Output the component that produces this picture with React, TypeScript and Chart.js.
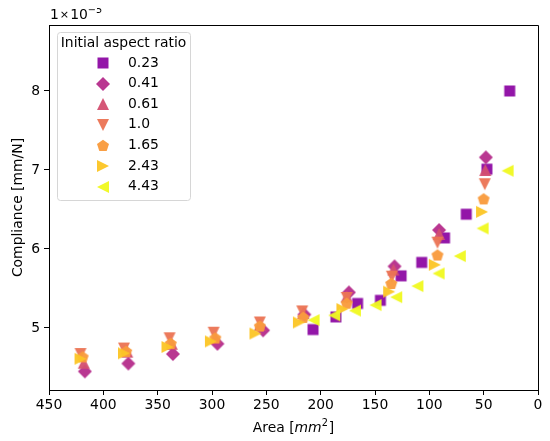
import React, { useRef, useEffect } from 'react';
import { Chart, registerables } from 'chart.js';

Chart.register(...registerables);

// compliance values are in units of 1e-5 mm/N
const ratioLabels = ['0.23', '0.41', '0.61', '1.0', '1.65', '2.43', '4.43'];

const area023 = [26, 47, 66, 86, 107, 126, 145, 166, 186, 207];
const comp023 = [8.0, 7.01, 6.44, 6.14, 5.83, 5.66, 5.35, 5.31, 5.14, 4.98];

const area041 = [48, 91, 132, 174, 215, 253, 295, 336, 377, 417];
const comp041 = [7.16, 6.24, 5.78, 5.45, 5.17, 4.97, 4.8, 4.67, 4.55, 4.45];

const area061 = [48.5, 91, 133, 176, 216, 256, 297, 337, 378, 418];
const comp061 = [7.0, 6.19, 5.74, 5.4, 5.19, 5.04, 4.88, 4.8, 4.7, 4.56];

const area10 = [49, 92.5, 134.5, 176, 217, 256, 298.5, 339, 381, 421];
const comp10 = [6.82, 6.08, 5.65, 5.38, 5.21, 5.07, 4.94, 4.87, 4.74, 4.67];

const area165 = [50, 92.5, 135, 176, 216, 256, 297, 338, 379, 419];
const comp165 = [6.64, 5.93, 5.57, 5.32, 5.14, 5.03, 4.88, 4.81, 4.71, 4.64];

const area243 = [51.5, 95, 137, 180, 220, 260, 301, 341, 381, 421];
const comp243 = [6.47, 5.8, 5.46, 5.24, 5.07, 4.93, 4.83, 4.76, 4.68, 4.61];

const area443 = [28, 51, 72, 91.5, 111, 130.5, 149.5, 168.5, 187.5, 206.5];
const comp443 = [6.99, 6.26, 5.91, 5.69, 5.53, 5.39, 5.29, 5.22, 5.16, 5.1];

const xTicks = [0, 50, 100, 150, 200, 250, 300, 350, 400, 450];
const yTicks = [5, 6, 7, 8];

const seriesAreas = [area023, area041, area061, area10, area165, area243, area443];
const seriesComp = [comp023, comp041, comp061, comp10, comp165, comp243, comp443];
const shapes = ['square', 'diamond', 'up', 'down', 'pentagon', 'right', 'left'];
const colors = [
  'rgba(143,13,164,0.96)',
  'rgba(182,47,140,0.96)',
  'rgba(211,80,113,0.96)',
  'rgba(235,117,85,0.96)',
  'rgba(249,155,61,0.96)',
  'rgba(252,198,39,0.96)',
  'rgba(240,249,33,0.96)',
];

const FONT = '"DejaVu Sans", sans-serif';
const FS = 13.9;

function makeMarker(shape: string, fill: string) {
  const cv = document.createElement('canvas');
  cv.width = 20;
  cv.height = 20;
  const g = cv.getContext('2d')!;
  const c = 10;
  g.fillStyle = fill;
  g.beginPath();
  if (shape === 'square') {
    g.rect(c - 5.5, c - 5.5, 11, 11);
  } else if (shape === 'diamond') {
    g.moveTo(c, c - 7);
    g.lineTo(c + 7, c);
    g.lineTo(c, c + 7);
    g.lineTo(c - 7, c);
  } else if (shape === 'up') {
    g.moveTo(c, c - 6);
    g.lineTo(c + 6, c + 6);
    g.lineTo(c - 6, c + 6);
  } else if (shape === 'down') {
    g.moveTo(c, c + 6);
    g.lineTo(c + 6, c - 6);
    g.lineTo(c - 6, c - 6);
  } else if (shape === 'left') {
    g.moveTo(c - 6, c);
    g.lineTo(c + 6, c - 6);
    g.lineTo(c + 6, c + 6);
  } else if (shape === 'right') {
    g.moveTo(c + 6, c);
    g.lineTo(c - 6, c - 6);
    g.lineTo(c - 6, c + 6);
  } else {
    for (let k = 0; k < 5; k++) {
      const a = (-90 + k * 72) * Math.PI / 180;
      const px = c + 6.3 * Math.cos(a);
      const py = c + 1 + 6.3 * Math.sin(a);
      if (k === 0) g.moveTo(px, py);
      else g.lineTo(px, py);
    }
  }
  g.closePath();
  g.fill();
  return cv;
}

const decorPlugin = {
  id: 'decor',
  afterDraw(chart: any) {
    const { ctx, chartArea } = chart;
    const { left, right, top, bottom } = chartArea;
    ctx.save();

    // top/right spines
    ctx.strokeStyle = '#000';
    ctx.lineWidth = 1;
    ctx.beginPath();
    ctx.moveTo(left, top + 0.5);
    ctx.lineTo(right + 0.5, top + 0.5);
    ctx.lineTo(right + 0.5, bottom);
    ctx.stroke();

    ctx.fillStyle = '#000';
    ctx.textBaseline = 'alphabetic';

    // offset text 1x10^-5
    let x = left + 1;
    const by = top - 6.5;
    ctx.font = `${FS}px ${FONT}`;
    ctx.textAlign = 'left';
    ctx.fillText('1', x, by);
    x += ctx.measureText('1').width + 1;
    ctx.font = `${FS * 0.8}px ${FONT}`;
    ctx.fillText('×', x, by - 1);
    x += ctx.measureText('×').width + 1;
    ctx.font = `${FS}px ${FONT}`;
    ctx.fillText('10', x, by);
    x += ctx.measureText('10').width;
    ctx.font = `${FS * 0.7}px ${FONT}`;
    ctx.fillText('−5', x, by - 6);

    // x axis title: Area [mm^2]
    const parts = [
      { t: 'Area [', f: `${FS}px ${FONT}`, dy: 0 },
      { t: 'mm', f: `italic ${FS}px ${FONT}`, dy: 0 },
      { t: '2', f: `${FS * 0.7}px ${FONT}`, dy: -6 },
      { t: ']', f: `${FS}px ${FONT}`, dy: 0 },
    ];
    let total = 0;
    parts.forEach((p) => {
      ctx.font = p.f;
      total += ctx.measureText(p.t).width + (p.t === '2' ? 1 : 0);
    });
    x = (left + right) / 2 - total / 2;
    const xb = bottom + 42;
    parts.forEach((p) => {
      ctx.font = p.f;
      ctx.fillText(p.t, x, xb + p.dy);
      x += ctx.measureText(p.t).width + (p.t === '2' ? 1 : 0);
    });

    // y axis title
    ctx.save();
    ctx.translate(left - 31, (top + bottom) / 2);
    ctx.rotate(-Math.PI / 2);
    ctx.font = `${FS}px ${FONT}`;
    ctx.textAlign = 'center';
    ctx.textBaseline = 'middle';
    ctx.fillText('Compliance [mm/N]', 0, 0);
    ctx.restore();

    // legend
    const lx = left + 8;
    const ly = top + 7;
    const lw = 133;
    const lh = 168;
    ctx.beginPath();
    ctx.roundRect(lx + 0.5, ly + 0.5, lw, lh, 3);
    ctx.fillStyle = 'rgba(255,255,255,0.8)';
    ctx.fill();
    ctx.strokeStyle = '#d6d6d6';
    ctx.lineWidth = 1;
    ctx.stroke();

    ctx.fillStyle = '#000';
    ctx.font = `${FS}px ${FONT}`;
    ctx.textAlign = 'center';
    ctx.textBaseline = 'middle';
    ctx.fillText('Initial aspect ratio', lx + lw / 2, ly + 11);

    ctx.textAlign = 'left';
    chart.data.datasets.forEach((ds: any, i: number) => {
      const ry = ly + 31 + i * 20.6;
      const img = ds.pointStyle as HTMLCanvasElement;
      ctx.drawImage(img, lx + 46 - img.width / 2, Math.round(ry) - img.height / 2);
      ctx.fillText(ratioLabels[i], lx + 71, ry);
    });

    ctx.restore();
  },
};

const ComplianceChart: React.FC = () => {
  const canvasRef = useRef<HTMLCanvasElement>(null);
  const chartRef = useRef<Chart | null>(null);

  useEffect(() => {
    if (!canvasRef.current) return;
    const ctx = canvasRef.current.getContext('2d');
    if (!ctx) return;

    const datasets = ratioLabels.map((label, i) => ({
      label,
      data: seriesAreas[i].map((a, j) => ({ x: a, y: seriesComp[i][j] })),
      pointStyle: makeMarker(shapes[i], colors[i]) as any,
      pointRadius: 5,
      pointHoverRadius: 5,
      backgroundColor: colors[i],
      borderColor: colors[i],
      order: ratioLabels.length - 1 - i,
    }));

    chartRef.current = new Chart(ctx, {
      type: 'scatter',
      data: { datasets },
      options: {
        animation: false,
        responsive: true,
        maintainAspectRatio: false,
        layout: { padding: { top: 25, right: 12, left: 0, bottom: 0 } },
        plugins: {
          legend: { display: false },
          tooltip: { enabled: false },
        },
        scales: {
          x: {
            type: 'linear',
            reverse: true,
            min: 0,
            max: 450,
            afterBuildTicks: (scale: any) => {
              scale.ticks = xTicks.map((v) => ({ value: v }));
            },
            afterFit: (scale: any) => {
              scale.height = 51;
            },
            grid: {
              display: true,
              drawOnChartArea: false,
              drawTicks: true,
              tickLength: 5,
              color: '#000',
              lineWidth: 1,
            },
            border: { display: true, color: '#000', width: 1 },
            ticks: {
              color: '#000',
              padding: 2,
              maxRotation: 0,
              autoSkip: false,
              font: { family: FONT, size: FS },
            },
          },
          y: {
            type: 'linear',
            min: 4.215,
            max: 8.835,
            afterBuildTicks: (scale: any) => {
              scale.ticks = yTicks.map((v) => ({ value: v }));
            },
            afterFit: (scale: any) => {
              scale.width = 49;
            },
            grid: {
              display: true,
              drawOnChartArea: false,
              drawTicks: true,
              tickLength: 5,
              color: '#000',
              lineWidth: 1,
            },
            border: { display: true, color: '#000', width: 1 },
            ticks: {
              color: '#000',
              padding: 4,
              autoSkip: false,
              font: { family: FONT, size: FS },
              callback: (v: any) => String(v),
            },
          },
        },
      },
      plugins: [decorPlugin],
    });

    return () => {
      if (chartRef.current) {
        chartRef.current.destroy();
        chartRef.current = null;
      }
    };
  }, []);

  return (
    <div style={{ position: 'relative', width: 550, height: 441, margin: '-8px 0 0 -8px' }}>
      <canvas ref={canvasRef} />
    </div>
  );
};

export default function App() {
  return <ComplianceChart />;
}
